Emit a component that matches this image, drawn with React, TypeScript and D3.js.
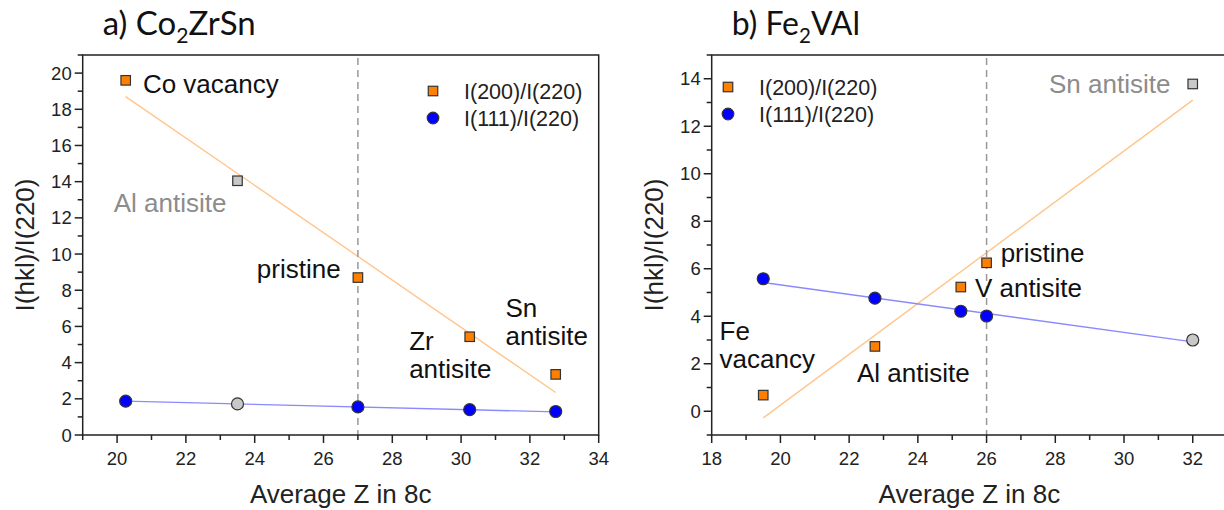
import * as d3 from "d3";

// panel a) Co2ZrSn
const A_X = [20.25, 27, 30.25, 32.75];
const A_I200 = [19.6, 8.7, 5.43, 3.35];
const A_I111 = [1.87, 1.55, 1.4, 1.3];
const A_GRAY_X = [23.5];
const A_GRAY_I200 = [14.05];
const A_GRAY_I111 = [1.72];
const A_FIT200 = [[20.25, 18.7], [32.75, 2.35]];
const A_FIT111 = [[20.25, 1.87], [32.75, 1.28]];

// panel b) Fe2VAl
const B_X = [19.5, 22.75, 25.25, 26];
const B_I200 = [0.68, 2.73, 5.23, 6.25];
const B_I111 = [5.58, 4.76, 4.21, 4.01];
const B_GRAY_X = [32];
const B_GRAY_I200 = [13.78];
const B_GRAY_I111 = [3.0];
const B_FIT200 = [[19.5, -0.28], [32, 13.1]];
const B_FIT111 = [[19.5, 5.42], [32, 2.92]];

const LEGEND = ["I(200)/I(220)", "I(111)/I(220)"];

const ORANGE = "#ff8000";
const BLUE = "#0000ff";
const GRAY = "#c8c8c8";
const EDGE = "#333";
const ARIAL = "'Liberation Sans', Arial, sans-serif";

type Label = { x: number; y: number; lines: string[]; anchor?: string; color?: string };

type PanelProps = {
  left: number;
  right: number;
  xDomain: [number, number];
  yDomain: [number, number];
  xTicks: number[];
  yTicks: number[];
  title: [string, string, string];
  titleSize: number;
  xs: number[];
  i200: number[];
  i111: number[];
  grayX: number[];
  grayI200: number[];
  grayI111: number[];
  fit200: number[][];
  fit111: number[][];
  dashX: number;
  legendX: number;
  legendY: number;
  labels: Label[];
};

const TOP = 55;
const BOTTOM = 435;

function Panel(p: PanelProps) {
  const x = d3.scaleLinear().domain(p.xDomain).range([p.left, p.right]);
  const y = d3.scaleLinear().domain(p.yDomain).range([BOTTOM, TOP]);
  const line = d3
    .line<number[]>()
    .x((d) => x(d[0]))
    .y((d) => y(d[1]));
  const xMinor = d3.range(Math.ceil(p.xDomain[0]), p.xDomain[1] + 0.01, 1);
  const yMinor = d3.range(Math.ceil(p.yDomain[0]), p.yDomain[1] + 0.01, 1);
  const sq = 9.5;
  const cx = (p.left + p.right) / 2;

  return (
    <g>
      <text x={p.left + 20} y={35} style={{ fontFamily: "Lato, 'Open Sans', sans-serif", fontSize: p.titleSize }} fill="#111">
        {p.title[0]}
        <tspan dy={8} style={{ fontSize: p.titleSize * 0.64 }}>{p.title[1]}</tspan>
        <tspan dy={-8}>{p.title[2]}</tspan>
      </text>

      {/* fit lines */}
      <path d={line(p.fit200) ?? ""} fill="none" stroke="#ffc58a" strokeWidth={1.4} />
      <path d={line(p.fit111) ?? ""} fill="none" stroke="#8a8aff" strokeWidth={1.4} />

      <line x1={x(p.dashX)} x2={x(p.dashX)} y1={TOP + 3} y2={BOTTOM} stroke="#999" strokeWidth={1.5} strokeDasharray="7,5" />

      {/* frame */}
      <path
        d={`M${p.left},${BOTTOM}V${TOP}H${p.right}V${BOTTOM}Z`}
        fill="none"
        stroke="#222"
        strokeWidth={1.5}
      />

      {xMinor.map((v) => (
        <line key={"xm" + v} x1={x(v)} x2={x(v)} y1={BOTTOM} y2={BOTTOM + (p.xTicks.includes(v) ? 8 : 5)} stroke="#222" strokeWidth={1.5} />
      ))}
      {yMinor.map((v) => (
        <line key={"ym" + v} x1={p.left} x2={p.left - (p.yTicks.includes(v) ? 8 : 5)} y1={y(v)} y2={y(v)} stroke="#222" strokeWidth={1.5} />
      ))}
      {p.xTicks.map((v) => (
        <text key={"xt" + v} x={x(v)} y={465} textAnchor="middle" style={{ fontFamily: ARIAL, fontSize: 18.5 }} fill="#222">
          {v}
        </text>
      ))}
      {p.yTicks.map((v) => (
        <text key={"yt" + v} x={p.left - 11} y={y(v) + 6.5} textAnchor="end" style={{ fontFamily: ARIAL, fontSize: 18.5 }} fill="#222">
          {v}
        </text>
      ))}

      <text x={cx} y={503} textAnchor="middle" style={{ fontFamily: ARIAL, fontSize: 26 }} fill="#222">
        Average Z in 8c
      </text>
      <text
        transform={`translate(${p.left - 49},${(TOP + BOTTOM) / 2}) rotate(-90)`}
        textAnchor="middle"
        style={{ fontFamily: ARIAL, fontSize: 26 }}
        fill="#222"
      >
        I(hkl)/I(220)
      </text>

      {/* markers */}
      {p.xs.map((v, i) => (
        <rect key={"s" + i} x={x(v) - sq / 2} y={y(p.i200[i]) - sq / 2} width={sq} height={sq} fill={ORANGE} stroke={EDGE} strokeWidth={1.2} />
      ))}
      {p.grayX.map((v, i) => (
        <rect key={"gs" + i} x={x(v) - sq / 2} y={y(p.grayI200[i]) - sq / 2} width={sq} height={sq} fill={GRAY} stroke={EDGE} strokeWidth={1.2} />
      ))}
      {p.xs.map((v, i) => (
        <circle key={"c" + i} cx={x(v)} cy={y(p.i111[i])} r={6} fill={BLUE} stroke={EDGE} strokeWidth={1.2} />
      ))}
      {p.grayX.map((v, i) => (
        <circle key={"gc" + i} cx={x(v)} cy={y(p.grayI111[i])} r={6} fill={GRAY} stroke={EDGE} strokeWidth={1.2} />
      ))}

      {/* legend */}
      <rect x={p.legendX - sq / 2} y={p.legendY - sq / 2} width={sq} height={sq} fill={ORANGE} stroke={EDGE} strokeWidth={1.2} />
      <circle cx={p.legendX} cy={p.legendY + 27} r={5.8} fill={BLUE} stroke={EDGE} strokeWidth={1.2} />
      {LEGEND.map((t, i) => (
        <text key={t} x={p.legendX + 31} y={p.legendY + 7.5 + i * 27} style={{ fontFamily: ARIAL, fontSize: 21.5 }} fill="#222">
          {t}
        </text>
      ))}

      {p.labels.map((l, i) => (
        <text
          key={"l" + i}
          x={x(l.x)}
          y={y(l.y)}
          textAnchor={l.anchor ?? "start"}
          style={{ fontFamily: ARIAL, fontSize: 26 }}
          fill={l.color ?? "#111"}
        >
          {l.lines.map((s, j) => (
            <tspan key={j} x={x(l.x)} dy={j === 0 ? 0 : 28}>
              {s}
            </tspan>
          ))}
        </text>
      ))}
    </g>
  );
}

export default function App() {
  return (
    <svg width={1224} height={510} style={{ position: "absolute", left: 0, top: 0, background: "#fff" }}>
      <rect width={1224} height={510} fill="#fff" />
      <Panel
        left={82.7}
        right={598.7}
        xDomain={[19, 34]}
        yDomain={[0, 21]}
        xTicks={d3.range(20, 35, 2)}
        yTicks={d3.range(0, 21, 2)}
        title={["a) Co", "2", "ZrSn"]}
        titleSize={33}
        xs={A_X}
        i200={A_I200}
        i111={A_I111}
        grayX={A_GRAY_X}
        grayI200={A_GRAY_I200}
        grayI111={A_GRAY_I111}
        fit200={A_FIT200}
        fit111={A_FIT111}
        dashX={27}
        legendX={433}
        legendY={91}
        labels={[
          { x: 20.75, y: 18.9, lines: ["Co vacancy"] },
          { x: 19.9, y: 12.3, lines: ["Al antisite"], color: "#8c8c8c" },
          { x: 26.5, y: 8.68, lines: ["pristine"], anchor: "end" },
          { x: 28.49, y: 4.7, lines: ["Zr", "antisite"] },
          { x: 31.29, y: 6.52, lines: ["Sn", "antisite"] },
        ]}
      />
      <Panel
        left={711.7}
        right={1227.1}
        xDomain={[18, 33]}
        yDomain={[-1, 15]}
        xTicks={d3.range(18, 33, 2)}
        yTicks={d3.range(0, 15, 2)}
        title={["b) Fe", "2", "VAl"]}
        titleSize={32}
        xs={B_X}
        i200={B_I200}
        i111={B_I111}
        grayX={B_GRAY_X}
        grayI200={B_GRAY_I200}
        grayI111={B_GRAY_I111}
        fit200={B_FIT200}
        fit111={B_FIT111}
        dashX={26}
        legendX={728}
        legendY={87}
        labels={[
          { x: 31.35, y: 13.4, lines: ["Sn antisite"], anchor: "end", color: "#8c8c8c" },
          { x: 26.41, y: 6.28, lines: ["pristine"] },
          { x: 25.66, y: 4.81, lines: ["V antisite"] },
          { x: 18.23, y: 3.0, lines: ["Fe", "vacancy"] },
          { x: 22.23, y: 1.23, lines: ["Al antisite"] },
        ]}
      />
    </svg>
  );
}
